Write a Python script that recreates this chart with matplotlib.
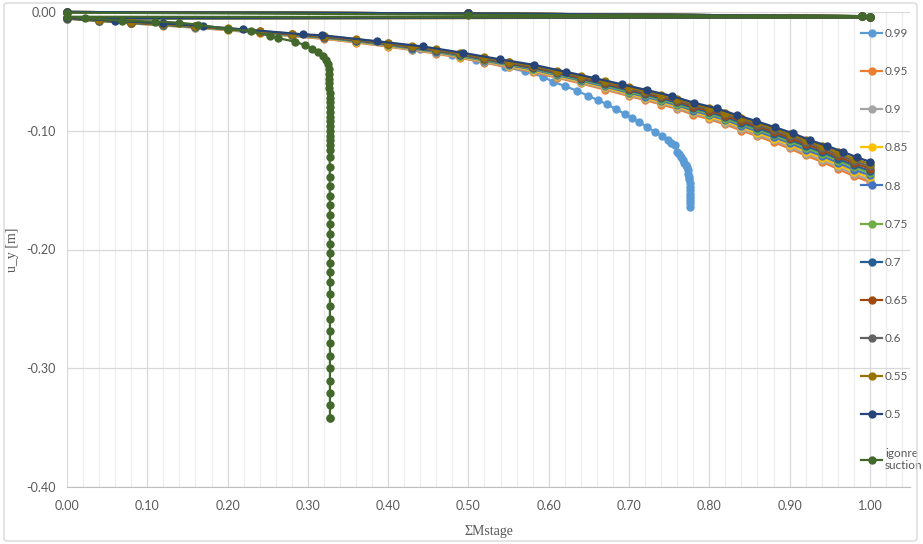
import numpy as np
import matplotlib
matplotlib.use('Agg')
import matplotlib.pyplot as plt
from matplotlib.patches import FancyBboxPatch
from matplotlib.ticker import MultipleLocator

# first loading stage (top line), shared by the suction series
init_x = [0.0, 0.5, 0.99, 1.0]
init_u = [0.0, -0.0012, -0.0035, -0.0045]

# sampling of the second stage for most suction series
x_grid = [0.00, 0.04, 0.08, 0.12, 0.16, 0.20, 0.24, 0.28, 0.32, 0.36, 0.40,
          0.43, 0.46, 0.49, 0.52, 0.55, 0.58, 0.61, 0.64, 0.67, 0.70,
          0.72, 0.74, 0.76, 0.78, 0.80, 0.82, 0.84, 0.86, 0.88, 0.90,
          0.92, 0.94, 0.96, 0.98, 1.00]

u_095 = [-0.0057, -0.0077, -0.0096, -0.0114, -0.0133, -0.0153, -0.0179, -0.0204, -0.0226, -0.0257, -0.0292,
         -0.0321, -0.0351, -0.0387, -0.0426, -0.0466, -0.0504, -0.0553, -0.0602, -0.0653, -0.0708,
         -0.0742, -0.0779, -0.0816, -0.0865, -0.0903, -0.0947, -0.0998, -0.1046, -0.1096, -0.1149,
         -0.1208, -0.1261, -0.1321, -0.1382, -0.1431]
u_090 = [-0.0056, -0.0076, -0.0095, -0.0112, -0.0131, -0.0151, -0.0177, -0.0202, -0.0223, -0.0253, -0.0288,
         -0.0317, -0.0346, -0.0382, -0.0420, -0.0460, -0.0497, -0.0545, -0.0594, -0.0644, -0.0699,
         -0.0732, -0.0768, -0.0805, -0.0853, -0.0892, -0.0934, -0.0984, -0.1033, -0.1082, -0.1133,
         -0.1192, -0.1244, -0.1304, -0.1364, -0.1412]
u_085 = [-0.0055, -0.0075, -0.0094, -0.0111, -0.0129, -0.0149, -0.0175, -0.0199, -0.0220, -0.0250, -0.0284,
         -0.0313, -0.0341, -0.0377, -0.0414, -0.0454, -0.0491, -0.0538, -0.0586, -0.0635, -0.0690,
         -0.0723, -0.0758, -0.0794, -0.0842, -0.0880, -0.0922, -0.0971, -0.1019, -0.1067, -0.1118,
         -0.1176, -0.1228, -0.1286, -0.1346, -0.1393]
u_080 = [-0.0055, -0.0074, -0.0093, -0.0109, -0.0128, -0.0147, -0.0172, -0.0196, -0.0217, -0.0246, -0.0280,
         -0.0308, -0.0337, -0.0372, -0.0409, -0.0448, -0.0484, -0.0531, -0.0578, -0.0627, -0.0680,
         -0.0713, -0.0748, -0.0784, -0.0831, -0.0868, -0.0909, -0.0958, -0.1005, -0.1053, -0.1103,
         -0.1160, -0.1211, -0.1269, -0.1328, -0.1374]
u_075 = [-0.0054, -0.0073, -0.0091, -0.0108, -0.0126, -0.0145, -0.0170, -0.0194, -0.0214, -0.0243, -0.0276,
         -0.0304, -0.0332, -0.0367, -0.0403, -0.0442, -0.0477, -0.0524, -0.0570, -0.0618, -0.0671,
         -0.0703, -0.0737, -0.0773, -0.0819, -0.0856, -0.0897, -0.0945, -0.0991, -0.1038, -0.1088,
         -0.1144, -0.1194, -0.1251, -0.1309, -0.1356]
u_070 = [-0.0053, -0.0072, -0.0090, -0.0106, -0.0124, -0.0143, -0.0167, -0.0191, -0.0211, -0.0240, -0.0272,
         -0.0300, -0.0328, -0.0361, -0.0398, -0.0436, -0.0471, -0.0516, -0.0562, -0.0610, -0.0661,
         -0.0693, -0.0727, -0.0762, -0.0808, -0.0844, -0.0884, -0.0932, -0.0977, -0.1024, -0.1073,
         -0.1128, -0.1178, -0.1234, -0.1291, -0.1337]
u_065 = [-0.0052, -0.0071, -0.0089, -0.0105, -0.0122, -0.0141, -0.0165, -0.0188, -0.0208, -0.0236, -0.0269,
         -0.0296, -0.0323, -0.0356, -0.0392, -0.0429, -0.0464, -0.0509, -0.0554, -0.0601, -0.0652,
         -0.0683, -0.0717, -0.0751, -0.0796, -0.0832, -0.0872, -0.0919, -0.0963, -0.1009, -0.1058,
         -0.1112, -0.1161, -0.1216, -0.1273, -0.1318]
u_060 = [-0.0051, -0.0070, -0.0088, -0.0103, -0.0121, -0.0139, -0.0163, -0.0185, -0.0205, -0.0233, -0.0265,
         -0.0291, -0.0318, -0.0351, -0.0386, -0.0423, -0.0457, -0.0502, -0.0546, -0.0592, -0.0643,
         -0.0674, -0.0707, -0.0741, -0.0785, -0.0820, -0.0859, -0.0905, -0.0950, -0.0995, -0.1042,
         -0.1096, -0.1144, -0.1199, -0.1255, -0.1299]
u_055 = [-0.0050, -0.0069, -0.0086, -0.0102, -0.0119, -0.0137, -0.0160, -0.0183, -0.0202, -0.0229, -0.0261,
         -0.0287, -0.0314, -0.0346, -0.0381, -0.0417, -0.0451, -0.0494, -0.0538, -0.0584, -0.0633,
         -0.0664, -0.0696, -0.0730, -0.0773, -0.0808, -0.0847, -0.0892, -0.0936, -0.0980, -0.1027,
         -0.1080, -0.1128, -0.1181, -0.1236, -0.1280]

# 0.5 has its own (coarser) steps
x_050 = [0.0, 0.06, 0.12, 0.17, 0.219, 0.294, 0.318, 0.386, 0.443, 0.493, 0.539, 0.582,
         0.621, 0.658, 0.691, 0.722, 0.753, 0.781, 0.809, 0.834, 0.858, 0.882, 0.904,
         0.925, 0.946, 0.966, 0.984, 1.0]
u_050 = [-0.0050, -0.0075, -0.0095, -0.0120, -0.0146, -0.0188, -0.0196, -0.0246, -0.0290, -0.0344, -0.0398, -0.0446,
         -0.0503, -0.0558, -0.0609, -0.0657, -0.0707, -0.0764, -0.0811, -0.0867, -0.0918, -0.0971, -0.1021,
         -0.1078, -0.1126, -0.1176, -0.1224, -0.1261]

# 0.99 fails around 0.78
x_099 = [0.0, 0.04, 0.08, 0.12, 0.16, 0.20, 0.24, 0.28, 0.32, 0.36, 0.40, 0.44, 0.48, 0.51, 0.545,
         0.57, 0.593, 0.605, 0.620, 0.635, 0.649, 0.661, 0.672, 0.684, 0.695, 0.704, 0.712, 0.722,
         0.732, 0.741, 0.748, 0.752, 0.757, 0.760, 0.762, 0.765, 0.767, 0.769, 0.771, 0.772, 0.773,
         0.774, 0.775, 0.775, 0.7755, 0.776, 0.776, 0.776, 0.776, 0.776, 0.776, 0.776]
u_099 = [-0.0050, -0.0070, -0.0088, -0.0104, -0.0122, -0.0142, -0.0166, -0.0190, -0.0213, -0.0243, -0.0276,
         -0.0313, -0.0362, -0.0405, -0.0461, -0.0500, -0.0545, -0.0587, -0.0623, -0.0663, -0.0705, -0.0741,
         -0.0775, -0.0819, -0.0859, -0.0895, -0.0924, -0.0966, -0.1008, -0.1044, -0.1078, -0.1100, -0.1120,
         -0.1176, -0.1195, -0.1220, -0.1246, -0.1270, -0.1290, -0.1303, -0.1330, -0.1360, -0.1387, -0.1410,
         -0.1440, -0.1471, -0.1500, -0.1530, -0.1555, -0.1580, -0.1610, -0.1640]

# ignoring suction: collapses at about 0.327
x_ign_init = [0.0, 0.5, 0.99, 1.0]
u_ign_init = [-0.0005, -0.0023, -0.0034, -0.0045]
x_ign = [0.0, 0.022, 0.069, 0.11, 0.14, 0.163, 0.20, 0.229, 0.253, 0.263, 0.284, 0.296, 0.305,
         0.313, 0.319, 0.323, 0.3255, 0.3265, 0.3266, 0.3267, 0.3268, 0.3269, 0.327, 0.327,
         0.327, 0.327, 0.327, 0.327, 0.327, 0.327, 0.327, 0.3272, 0.3272, 0.3272, 0.3272, 0.3272,
         0.3273, 0.3273, 0.3273, 0.3273, 0.3274, 0.3274, 0.3274, 0.3274, 0.3274, 0.3274, 0.3275,
         0.3275, 0.3275, 0.3275, 0.3275, 0.3275, 0.3275, 0.3275, 0.3275, 0.3275, 0.3275, 0.3275,
         0.3275, 0.3275, 0.3275]
u_ign = [-0.0040, -0.0053, -0.0073, -0.0080, -0.0090, -0.0107, -0.0143, -0.0160, -0.0202, -0.0220,
         -0.0250, -0.0278, -0.0310, -0.0340, -0.0370, -0.0400, -0.0440, -0.0480, -0.0520, -0.0560,
         -0.0600, -0.0640, -0.0680, -0.0720, -0.0760, -0.0800, -0.0840, -0.0880, -0.0920, -0.0960,
         -0.1000, -0.1040, -0.1080, -0.1120, -0.1160, -0.1224, -0.1303, -0.1387, -0.1465, -0.1547,
         -0.1625, -0.1707, -0.1788, -0.1869, -0.1951, -0.2032, -0.2111, -0.2192, -0.2274, -0.2372,
         -0.2473, -0.2585, -0.2686, -0.2790, -0.2897, -0.3000, -0.3104, -0.3206, -0.3312, -0.3416,
         -0.3416]

labels = ['0.99', '0.95', '0.9', '0.85', '0.8', '0.75', '0.7', '0.65', '0.6', '0.55', '0.5',
          'igonre\nsuction']
colors = ['#5B9BD5', '#ED7D31', '#A5A5A5', '#FFC000', '#4472C4', '#70AD47',
          '#255E91', '#9E480E', '#636363', '#997300', '#264478', '#43682B']

series = [
    (init_x + x_099, init_u + u_099),
    (init_x + x_grid, init_u + u_095),
    (init_x + x_grid, init_u + u_090),
    (init_x + x_grid, init_u + u_085),
    (init_x + x_grid, init_u + u_080),
    (init_x + x_grid, init_u + u_075),
    (init_x + x_grid, init_u + u_070),
    (init_x + x_grid, init_u + u_065),
    (init_x + x_grid, init_u + u_060),
    (init_x + x_grid, init_u + u_055),
    (init_x + x_050, init_u + u_050),
    (x_ign_init + x_ign, u_ign_init + u_ign),
]

fig = plt.figure(figsize=(9.23, 5.44), dpi=100)
ax = fig.add_axes([67 / 923, 1 - 487 / 544, (910 - 67) / 923, (487 - 12) / 544])

for (xs, us), lab, c in zip(series, labels, colors):
    ax.plot(xs, us, color=c, lw=1.6, marker='o', ms=5, label=lab, clip_on=False)

ax.set_xlim(0, 1.05)
ax.set_ylim(-0.40, 0.0)
ax.xaxis.set_minor_locator(MultipleLocator(0.02))
ax.grid(True, which='major', color='#D9D9D9', lw=0.9)
ax.grid(True, which='minor', axis='x', color='#EEEEEE', lw=0.9)
ax.set_axisbelow(True)

xt = np.arange(0, 1.01, 0.1)
ax.set_xticks(xt)
ax.set_xticklabels([f'{v:.2f}' for v in xt])
yt = [0.0, -0.1, -0.2, -0.3, -0.4]
ax.set_yticks(yt)
ax.set_yticklabels(['0.00', '-0.10', '-0.20', '-0.30', '-0.40'])
ax.tick_params(which='both', length=0, labelsize=9, labelcolor='#595959')
ax.tick_params(axis='x', pad=9)
ax.tick_params(axis='y', pad=8)
for lab in ax.get_xticklabels() + ax.get_yticklabels():
    lab.set_family(['Lato', 'DejaVu Sans'])

for s in ['top', 'right', 'left']:
    ax.spines[s].set_visible(False)
ax.spines['bottom'].set_color('#BFBFBF')

ax.set_xlabel('ΣMstage', family='Liberation Serif', fontsize=10, color='#595959', labelpad=10)
ax.set_ylabel('u_y [m]', family='Liberation Serif', fontsize=10, color='#595959')
ax.yaxis.set_label_coords(-48 / 843, 0.5)

leg = ax.legend(loc='upper left', bbox_to_anchor=(855 / 923, 1 - 22 / 544),
                bbox_transform=fig.transFigure, frameon=False, fontsize=8.5,
                labelspacing=2.3, handlelength=1.8, handletextpad=0.25, borderpad=0)
for t in leg.get_texts():
    t.set_color('#595959')
    t.set_family(['Lato', 'DejaVu Sans'])

# chart area outline
fig.patches.append(FancyBboxPatch((4 / 923, 3 / 544), 913 / 923, 538 / 544,
                                  boxstyle='round,pad=0,rounding_size=0.004',
                                  transform=fig.transFigure, fill=False,
                                  edgecolor='#D9D9D9', lw=1))

fig.savefig('out.png', dpi=100)
